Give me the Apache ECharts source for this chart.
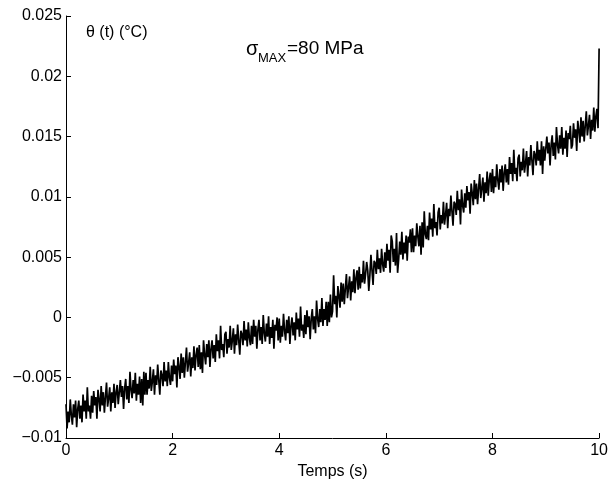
<!DOCTYPE html>
<html>
<head>
<meta charset="utf-8">
<script src="https://cdn.jsdelivr.net/npm/echarts@6/dist/echarts.min.js"></script>
<style>html,body{margin:0;padding:0;background:#fff;}#c{width:611px;height:485px;}</style>
</head>
<body>
<div id="c"></div>
<script>
// Sampling interval of the recording (s)
const dt = 0.02;
// Temperature θ(t), in thousandths of °C (one value per dt, t = 0 … 10 s)
const thetaMilli = [
-7.2,-9.2,-7.8,-8.7,-6.8, -8.1,-8.9,-7.2,-8.3,-6.9, -9.1,-7.6,-6.9,-8.4,-7.3, -8.7,-6.4,-7.8,-6.9,-8.4, -5.8,-7.8,-7.3,-8.4,-6.5,
-7.9,-6.1,-7.3,-6.6,-8.4, -6.0,-6.8,-7.8,-5.7,-7.3, -6.2,-7.9,-6.6,-5.4,-7.4, -6.7,-5.8,-7.8,-6.2,-7.1, -5.5,-7.5,-6.2,-5.6,-7.2,
-7.2,-5.2,-6.6,-5.7,-7.6, -5.9,-5.1,-6.8,-5.7,-7.1, -4.5,-6.0,-6.7,-5.2,-6.3, -4.6,-6.9,-5.5,-6.4,-4.9, -7.1,-5.1,-7.3,-4.5,-6.4,
-4.6,-6.4,-5.2,-5.9,-4.1, -6.1,-5.3,-4.3,-6.4,-4.8, -5.6,-3.9,-5.2,-6.4,-4.4, -4.8,-5.7,-3.7,-5.3,-4.4, -5.7,-3.7,-5.0,-5.6,-4.0,
-5.3,-3.5,-4.7,-4.0,-5.8, -3.3,-4.1,-5.1,-3.0,-4.6, -3.3,-5.0,-3.7,-2.5,-4.5, -3.8,-2.9,-4.9,-3.3,-4.2, -2.4,-4.4,-3.1,-2.5,-4.1,
-2.3,-4.3,-2.9,-4.6,-1.9, -3.1,-3.9,-2.2,-3.3,-1.9, -4.1,-2.6,-1.9,-3.4,-2.3, -3.7,-1.4,-2.8,-1.9,-3.4, -0.7,-2.7,-2.2,-3.3,-1.4,
-1.2,-3.0,-1.8,-2.5,-0.7, -2.7,-1.9,-0.9,-3.0,-1.4, -2.3,-0.6,-1.9,-3.1,-1.1, -1.4,-2.3,-0.3,-1.9,-1.0, -2.4,-0.4,-1.7,-2.3,-0.7,
-2.2,-0.2,-1.6,-0.7,-2.6, -1.0,-0.2,-1.9,-0.8,-2.2, 0.2,-1.3,-2.0,-0.5,-1.6, 0.1,-2.2,-0.8,-1.7,-0.2, -2.6,-0.6,-1.1,0.0,-1.9,
-0.1,-2.1,-0.7,-1.6,0.3, -1.1,-1.9,-0.2,-1.3,0.1, -2.2,-0.7,0.0,-1.5,-0.4, -1.9,0.4,-1.0,-0.1,-1.6, 0.9,-1.1,-0.6,-1.7,0.2,
-1.4,0.6,-0.8,0.1,-1.8, -0.1,0.7,-1.0,0.1,-1.3, 1.4,-0.1,-0.8,0.7,-0.4, 1.6,-0.7,0.7,-0.2,1.3, -0.7,1.3,-0.4,1.9,0.0,
0.5,3.5,1.1,1.8,0.0, 2.6,1.8,0.8,2.9,1.3, 2.8,1.1,2.4,3.6,1.6, 2.5,3.4,1.4,3.0,2.1, 4.0,2.0,3.3,3.9,2.3,
4.2,2.4,3.6,2.9,4.7, 2.8,3.6,4.6,3.9,2.2, 3.5,5.2,3.9,2.7,4.7, 4.5,3.6,5.6,4.0,4.9, 3.7,5.7,4.4,3.8,5.4,
4.1,6.1,4.7,5.6,3.7, 6.8,6.3,4.6,5.7,4.3, 7.0,3.7,4.8,6.3,5.2, 7.1,4.8,6.2,5.3,6.8, 4.7,6.7,6.2,7.3,5.4,
7.4,5.4,6.8,5.9,7.8, 6.7,5.9,7.6,5.2,7.9, 5.8,8.8,6.9,6.5,7.6, 6.4,8.7,7.3,8.2,6.7, 9.4,7.4,7.9,6.8,8.7,
9.1,7.3,8.5,7.8,9.6, 7.7,8.5,9.5,7.4,9.0, 8.4,10.1,8.8,7.6,9.6, 9.4,8.5,10.5,8.9,9.8, 7.7,10.6,9.3,8.7,10.3,
9.1,10.9,9.7,10.4,8.6, 11.1,10.3,9.3,11.4,9.8, 11.1,9.4,10.7,11.9,9.9, 10.7,11.6,9.6,11.2,10.3, 12.1,10.1,11.4,12.0,10.4,
12.3,10.3,11.7,10.8,12.7, 11.4,10.6,12.3,11.2,12.6, 10.5,12.0,12.7,11.2,12.3, 11.0,13.3,11.9,12.8,11.3, 13.9,11.9,12.4,11.3,13.2,
13.5,11.7,12.9,12.2,14.0, 12.0,12.8,13.8,11.7,13.3, 12.6,14.3,13.0,11.8,13.8, 13.5,12.6,14.6,13.0,13.9, 12.6,14.6,11.9,14.2,13.0,
13.0,15.0,13.6,14.5,12.6, 14.3,15.1,13.4,14.5,13.1, 15.8,14.3,13.6,15.1,14.0, 15.8,13.5,14.9,14.0,15.5, 13.3,15.3,14.8,15.9,14.0,
14.3,16.1,14.9,15.6,13.8, 16.3,15.5,14.5,16.6,15.0, 16.3,14.6,15.9,17.1,15.1, 15.9,16.8,14.8,16.4,15.5, 17.4,15.4,16.7,17.3,15.7,
22.3
];
// Tick labels
const xTicks = [0, 2, 4, 6, 8, 10];
const yTicks = ['-0.01', '-0.005', '0', '0.005', '0.01', '0.015', '0.02', '0.025'];

const data = thetaMilli.map((v, i) => [i * dt, v / 1000]);
const FONT = 'Liberation Sans, Arial, Helvetica, sans-serif';

const chart = echarts.init(document.getElementById('c'), null, {renderer: 'canvas'});
chart.setOption({
  animation: false,
  backgroundColor: '#fff',
  grid: {left: 66, right: 11, top: 16, bottom: 47, containLabel: false},
  xAxis: {
    type: 'value', min: xTicks[0], max: xTicks[xTicks.length - 1], interval: 2,
    name: 'Temps (s)', nameLocation: 'middle', nameGap: 24,
    nameTextStyle: {fontFamily: FONT, fontSize: 16, color: '#000'},
    axisLine: {onZero: false, lineStyle: {color: '#000', width: 1}},
    axisTick: {inside: true, length: 5, lineStyle: {color: '#000'}},
    axisLabel: {fontFamily: FONT, fontSize: 16, color: '#000', margin: 5},
    splitLine: {show: false}
  },
  yAxis: {
    type: 'value', min: Number(yTicks[0]), max: Number(yTicks[yTicks.length - 1]), interval: 0.005,
    axisLine: {show: true, onZero: false, lineStyle: {color: '#000', width: 1}},
    axisTick: {show: true, inside: true, length: 5, lineStyle: {color: '#000'}},
    axisLabel: {
      fontFamily: FONT, fontSize: 16, color: '#000', margin: 4,
      formatter: function (v) {
        const s = yTicks.find(t => Math.abs(Number(t) - v) < 1e-9) || String(v);
        return s.replace('-', '\u2212');
      }
    },
    splitLine: {show: false}
  },
  series: [{
    type: 'line', data: data, showSymbol: false, symbol: 'none',
    lineStyle: {color: '#000', width: 1.7}, clip: true
  }],
  graphic: [
    {type: 'text', left: 86, top: 25, style: {text: 'θ (t) (°C)', font: '16px ' + FONT, fill: '#000'}},
    {type: 'text', left: 246, top: 39, style: {text: 'σ', font: '20px ' + FONT, fill: '#000'}},
    {type: 'text', left: 258, top: 52, style: {text: 'MAX', font: '13px ' + FONT, fill: '#000'}},
    {type: 'text', left: 287, top: 39, style: {text: '=80 MPa', font: '19px ' + FONT, fill: '#000'}}
  ]
});
</script>
</body>
</html>
